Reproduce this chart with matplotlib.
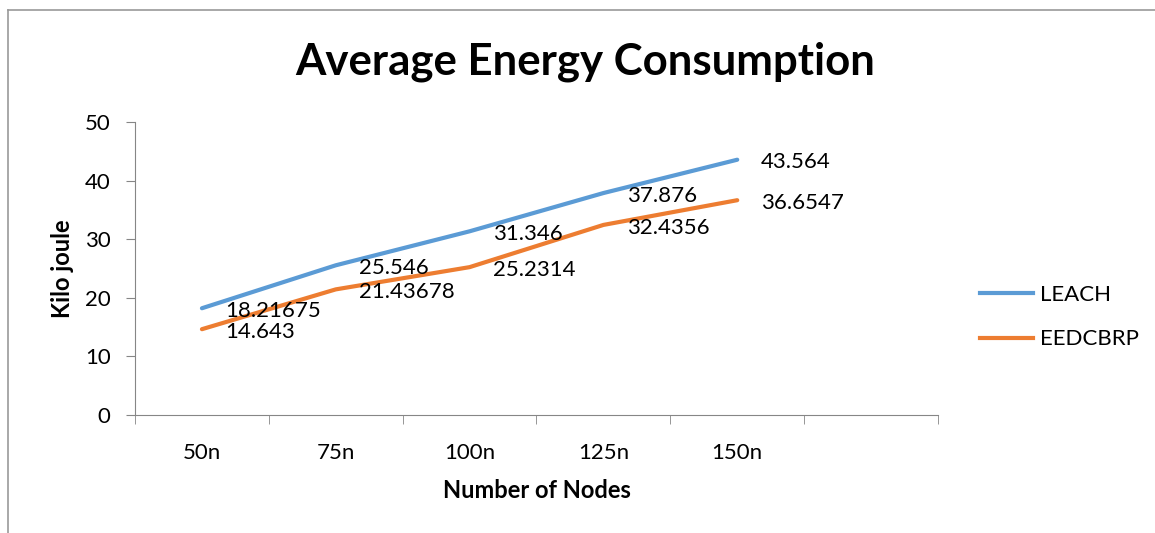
import matplotlib.pyplot as plt
from matplotlib.lines import Line2D
from matplotlib.ticker import FixedLocator

# Data
nodes = ["50n", "75n", "100n", "125n", "150n"]
leach = [18.21675, 25.546, 31.346, 37.876, 43.564]
eedcbrp = [14.643, 21.43678, 25.2314, 32.4356, 36.6547]
leach_labels = ["18.21675", "25.546", "31.346", "37.876", "43.564"]
eedcbrp_labels = ["14.643", "21.43678", "25.2314", "32.4356", "36.6547"]

plt.rcParams['font.family'] = ['Lato', 'DejaVu Sans']

fig = plt.figure(figsize=(11.55, 5.33), dpi=100)
ax = fig.add_axes([0.1169, 0.2214, 0.8121 - 0.1169, 0.7711 - 0.2214])

x = list(range(len(nodes)))
ax.plot(x, leach, color='#5B9BD5', lw=3, label="LEACH", solid_capstyle='round')
ax.plot(x, eedcbrp, color='#ED7D31', lw=3, label="EEDCBRP", solid_capstyle='round')

# data labels to the right of each point
for xi, yi, s in zip(x, leach, leach_labels):
    ax.annotate(s, (xi, yi), xytext=(17, -2), textcoords='offset points',
                ha='left', va='center', fontsize=16)
for xi, yi, s in zip(x, eedcbrp, eedcbrp_labels):
    ax.annotate(s, (xi, yi), xytext=(17, -2), textcoords='offset points',
                ha='left', va='center', fontsize=16)

ax.set_xlim(-0.5, 5.5)
ax.set_ylim(0, 50)
ax.set_yticks([0, 10, 20, 30, 40, 50])
ax.set_xticks(x)
ax.set_xticklabels(nodes)
ax.xaxis.set_minor_locator(FixedLocator([i - 0.5 for i in range(7)]))
ax.tick_params(axis='x', which='major', length=0, pad=20, labelsize=16)
ax.tick_params(axis='x', which='minor', length=6.5, color='#868686', direction='out')
ax.tick_params(axis='y', length=6.5, color='#868686', labelsize=16, pad=11)

for side in ['top', 'right']:
    ax.spines[side].set_visible(False)
for side in ['left', 'bottom']:
    ax.spines[side].set_color('#868686')

ax.set_xlabel("Number of Nodes", fontsize=17, fontweight='bold', labelpad=12)
ax.set_ylabel("Kilo joule", fontsize=17, fontweight='bold', labelpad=8)
fig.text(0.507, 0.884, "Average Energy Consumption", ha='center', va='center',
         fontsize=31.5, fontweight='bold')

handles = [Line2D([], [], color='#5B9BD5', lw=3), Line2D([], [], color='#ED7D31', lw=3)]
fig.legend(handles, ["LEACH", "EEDCBRP"], loc='center left', bbox_to_anchor=(0.831, 0.405),
           frameon=False, fontsize=16, handlelength=2.4, labelspacing=1.1, handletextpad=0.3)

# outer chart frame (top and left edges visible)
fig.add_artist(Line2D([0.007, 1.0], [0.981, 0.981], color='#999999', lw=1.2))
fig.add_artist(Line2D([0.007, 0.007], [0.0, 0.981], color='#999999', lw=1.2))

fig.savefig("out.png", dpi=100)
